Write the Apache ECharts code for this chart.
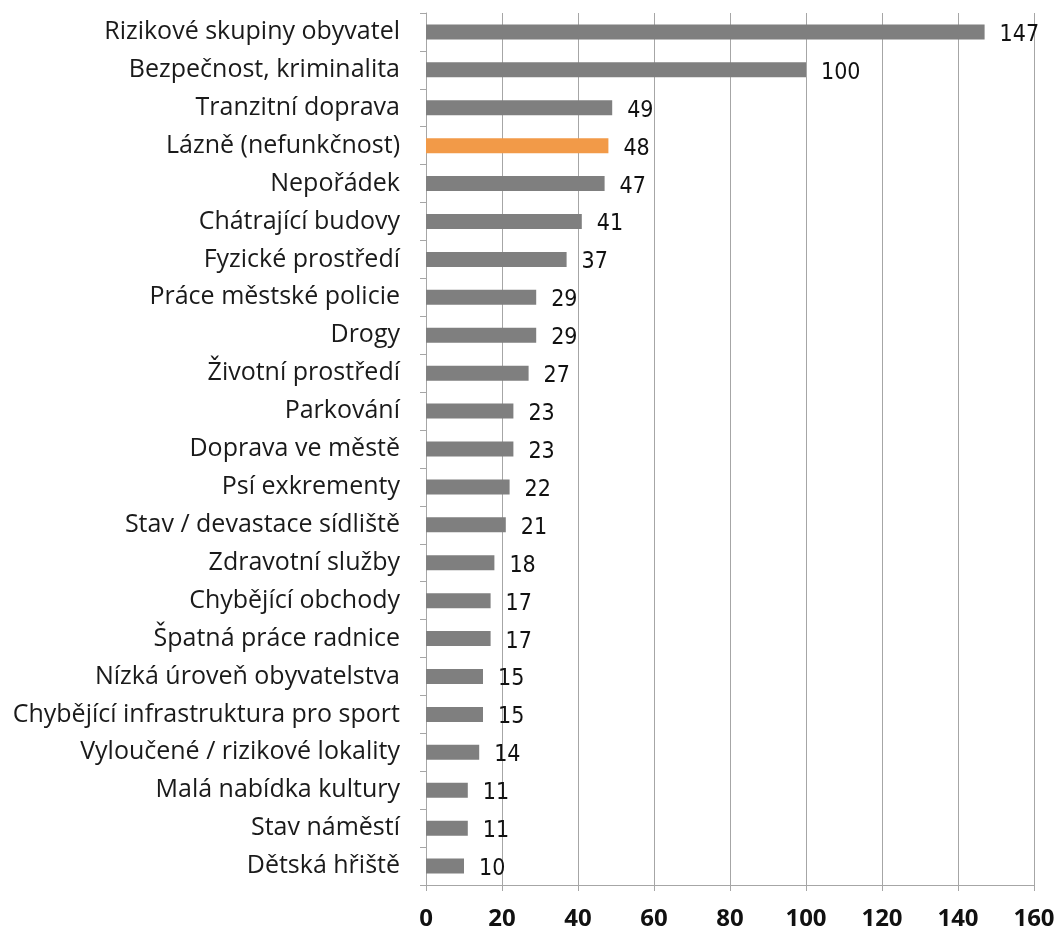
<!DOCTYPE html>
<html><head><meta charset="utf-8">
<script src="https://cdn.jsdelivr.net/npm/echarts@6/dist/echarts.min.js"></script>
<style>html,body{margin:0;padding:0;background:#fff}#c{width:1058px;height:931px}</style>
</head><body><div id="c"></div>
<script>
const categories = ["Rizikové skupiny obyvatel","Bezpečnost, kriminalita","Tranzitní doprava","Lázně (nefunkčnost)","Nepořádek","Chátrající budovy","Fyzické prostředí","Práce městské policie","Drogy","Životní prostředí","Parkování","Doprava ve městě","Psí exkrementy","Stav / devastace sídliště","Zdravotní služby","Chybějící obchody","Špatná práce radnice","Nízká úroveň obyvatelstva","Chybějící infrastruktura pro sport","Vyloučené / rizikové lokality","Malá nabídka kultury","Stav náměstí","Dětská hřiště"];
const values = [147,100,49,48,47,41,37,29,29,27,23,23,22,21,18,17,17,15,15,14,11,11,10];
const highlighted = ["Lázně (nefunkčnost)"];
const xTicks = [0,20,40,60,80,100,120,140,160];

const chart = echarts.init(document.getElementById('c'), null, {renderer:'canvas'});
chart.setOption({
  animation:false,
  backgroundColor:'#fff',
  grid:{left:426,right:24,top:13,bottom:46,containLabel:false},
  xAxis:{type:'value',min:xTicks[0],max:xTicks[xTicks.length-1],interval:20,
    axisLine:{show:true,lineStyle:{color:'#a6a6a6',width:1}},
    axisTick:{show:true,length:6,lineStyle:{color:'#a6a6a6'}},
    splitLine:{show:true,lineStyle:{color:'#a6a6a6',width:1}},
    axisLabel:{color:'#111',fontFamily:'Open Sans',fontSize:24,fontWeight:'bold',margin:22}},
  yAxis:{type:'category',data:categories,inverse:true,
    axisLine:{show:true,lineStyle:{color:'#a6a6a6'}},
    axisTick:{show:true,length:6,lineStyle:{color:'#a6a6a6'}},
    axisLabel:{color:'#1a1a1a',fontFamily:'Open Sans',fontSize:25,margin:26}},
  series:[{type:'bar',barWidth:15,
    data:values.map((v,i)=>({value:v,itemStyle:{color:highlighted.includes(categories[i])?'#f29a48':'#7f7f7f'}})),
    label:{show:true,position:'right',distance:15,offset:[0,3],color:'#111',fontFamily:"'DejaVu Sans Condensed', 'Open Sans', sans-serif",fontSize:23}}]
});
</script></body></html>
